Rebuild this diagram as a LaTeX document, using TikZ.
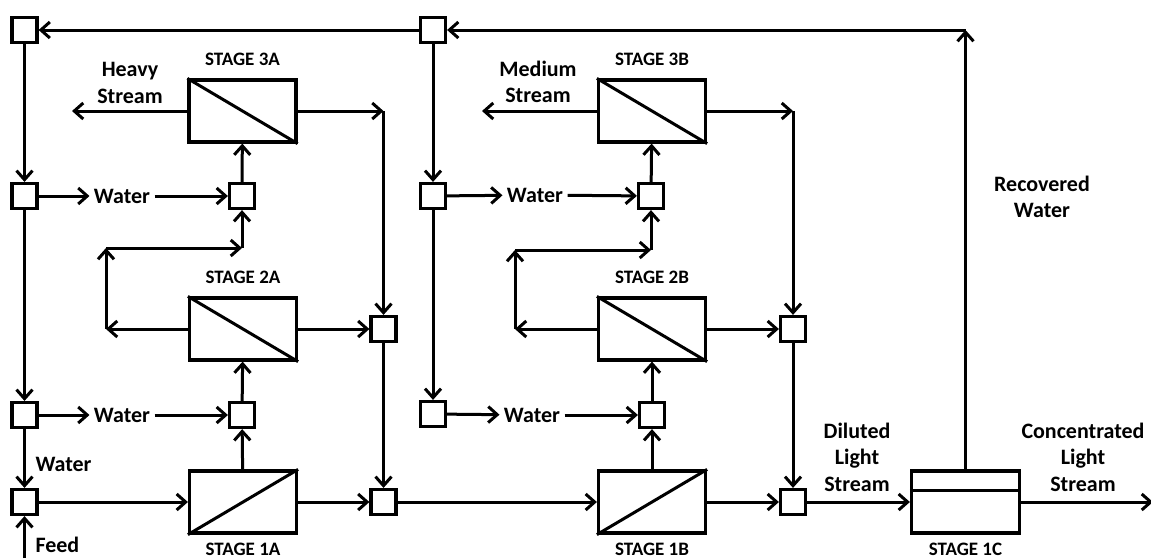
\documentclass[tikz,border=0pt]{standalone}
\usepackage{fontspec}
\setmainfont{Carlito}
\usetikzlibrary{arrows.meta, positioning, calc}
\tikzset{
  every picture/.style={font=\bfseries, line width=3pt},
  stagebox/.style={draw, rectangle, minimum width=107pt, minimum height=62pt, line width=3.2pt, inner sep=0pt},
  joint/.style={draw, rectangle, minimum size=25pt, inner sep=0pt, line width=3.2pt},
  flow/.style={-{Straight Barb[length=9pt, width=16pt]}, line width=3pt},
  lab/.style={font=\bfseries\fontsize{22}{26.5}\selectfont, align=center, inner sep=3pt},
  stagelab/.style={font=\bfseries\fontsize{19}{22}\selectfont, inner sep=2pt},
}

\begin{document}
\begin{tikzpicture}[x=1pt, y=-1pt]
  \fill[white] (0,0) rectangle (1151,558);
  \useasboundingbox (0,0) rectangle (1151,558);
  % stages
  \foreach \n/\x/\y in {s3a/242.5/111, s2a/243/329, s1a/243/502, s3b/652/111, s2b/652/329, s1b/652/502}
    \node[stagebox] (\n) at (\x,\y) {};
  \node[stagebox, minimum width=108pt] (s1c) at (965.5,502) {};
  \foreach \n in {s3a, s2a, s3b, s2b} \draw (\n.north west) -- (\n.south east);
  \foreach \n in {s1a, s1b} \draw (\n.south west) -- (\n.north east);
  \draw ($(s1c.north west)+(0,21)$) -- ($(s1c.north east)+(0,21)$);
  \foreach \n/\t in {s3a/STAGE 3A, s2a/STAGE 2A, s3b/STAGE 3B, s2b/STAGE 2B}
    \node[stagelab, above=9pt of \n] (l\n) {\t};
  \foreach \n/\t in {s1a/STAGE 1A, s1b/STAGE 1B, s1c/STAGE 1C}
    \node[stagelab, below=5pt of \n] (l\n) {\t};
  % splitters, mixers and collectors
  \foreach \n/\x/\y in {ta/24.5/30, wa3/24.5/196, wa2/24.5/415, wa1/24.5/502,
      ma3/242/196, ma2/242/415, ca2/383.5/329, ca1/383.5/502,
      tb/433/30, wb3/433/196, wb2/433/414, mb3/651/196, mb2/652/415, cb2/793/329, cb1/793/502}
    \node[joint] (\n) at (\x,\y) {};
  % labels
  \foreach \n/\x/\y in {wla3/122/196, wla2/122/415, wlb3/535/195, wlb2/532/415}
    \node[lab] (\n) at (\x,\y) {Water};
  \node[lab, anchor=west] (wla1) at (31,464) {Water};
  \node[lab, anchor=west] (feedlab) at (31,545) {Feed};
  \node[lab] (heavy) at (130,83) {Heavy\\Stream};
  \node[lab] (medium) at (538,82) {Medium\\Stream};
  \node[lab] (diluted) at (857,457) {Diluted\\Light\\Stream};
  \node[lab] (conc) at (1083,457) {Concentrated\\Light\\Stream};
  \node[lab] (recov) at (1042,197) {Recovered\\Water};
  % corner points
  \coordinate (hs) at (72,111);
  \coordinate (ms) at (482,111);
  \coordinate (ka3) at (383.5,111);
  \coordinate (kb3) at (793,111);
  \coordinate (ra1) at (106,329);
  \coordinate (ra2) at (106,248);
  \coordinate (rb1) at (515,329);
  \coordinate (rb2) at (515,250);
  \coordinate (feed) at (24.5,558);
  \coordinate (out) at (1153,502);
  \coordinate (rw) at (s1c.north |- ta);
  % recovered water loop
  \draw[flow] (s1c.north) -- (rw);
  \draw[flow] (rw) -- (tb.east);
  \draw[flow] (tb.west) -- (ta.east);
  % train A
  \draw[flow] (ta) -- (wa3);
  \draw[flow] (wa3) -- (wa2);
  \draw[flow] (wa2) -- (wa1);
  \draw[flow] (feed) -- (wa1);
  \draw[flow] (wa3) -- (wla3);
  \draw[flow] (wla3) -- (ma3);
  \draw[flow] (wa2) -- (wla2);
  \draw[flow] (wla2) -- (ma2);
  \draw[flow] (wa1) -- (s1a);
  \draw[flow] (s1a) -- (ma2);
  \draw[flow] (ma2) -- (s2a);
  \draw[flow] (ma3) -- (s3a);
  \draw[flow] (s3a) -- (hs);
  \draw[flow] (s3a) -- (ka3);
  \draw[flow] (ka3) -- (ca2);
  \draw[flow] (s2a) -- (ca2);
  \draw[flow] (ca2) -- (ca1);
  \draw[flow] (s1a) -- (ca1);
  \draw[flow] (s2a.west) -- (ra1);
  \draw[flow] (ra1) -- (ra2);
  \draw[flow] (ra2) -- (ma3 |- ra2);
  \draw[flow] (ma3 |- ra2) -- (ma3);
  % train B
  \draw[flow] (ca1) -- (s1b);
  \draw[flow] (tb) -- (wb3);
  \draw[flow] (wb3) -- (wb2);
  \draw[flow] (wb3) -- (wlb3);
  \draw[flow] (wlb3) -- (mb3);
  \draw[flow] (wb2) -- (wlb2);
  \draw[flow] (wlb2) -- (mb2);
  \draw[flow] (s1b) -- (mb2);
  \draw[flow] (mb2) -- (s2b);
  \draw[flow] (mb3) -- (s3b);
  \draw[flow] (s3b) -- (ms);
  \draw[flow] (s3b) -- (kb3);
  \draw[flow] (kb3) -- (cb2);
  \draw[flow] (s2b) -- (cb2);
  \draw[flow] (cb2) -- (cb1);
  \draw[flow] (s1b) -- (cb1);
  \draw[flow] (s2b.west) -- (rb1);
  \draw[flow] (rb1) -- (rb2);
  \draw[flow] (rb2) -- (mb3 |- rb2);
  \draw[flow] (mb3 |- rb2) -- (mb3);
  % stage 1C
  \draw[flow] (cb1) -- (s1c);
  \draw[flow] (s1c) -- (out);
\end{tikzpicture}
\end{document}
